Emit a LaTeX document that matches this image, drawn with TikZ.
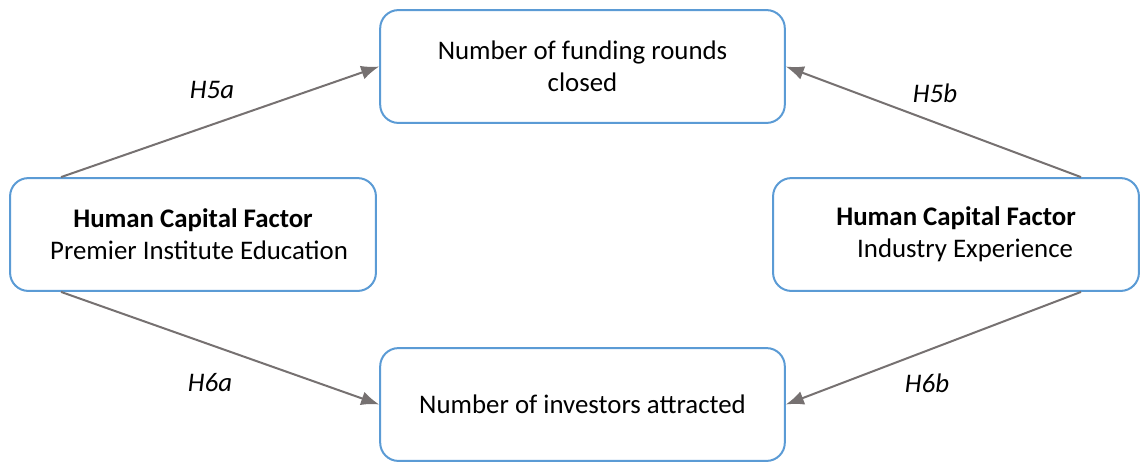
\documentclass[tikz,border=0pt]{standalone}
\usepackage{fontspec}
\setmainfont{Carlito}
\usetikzlibrary{positioning}
\usetikzlibrary{arrows.meta}
\definecolor{boxblue}{RGB}{91,155,213}
\definecolor{arrowgray}{RGB}{118,113,113}
\newcommand\pxunit{0.017544cm}
\tikzset{
    factorbox/.style = {draw=boxblue, line width=1pt, rounded corners=0.32cm,
        minimum width=6.42cm, minimum height=1.98cm, align=center, font=\fontsize{13.4}{16}\selectfont},
    outcomebox/.style = {factorbox, minimum width=7.1cm},
    hyparrow/.style = {draw=arrowgray, line width=1pt, -{Latex[length=9pt,width=7pt]}},
    hyplabel/.style = {font=\fontsize{13.4}{16}\selectfont\itshape},
}

\begin{document}
\begin{tikzpicture}[x=\pxunit, y=-\pxunit]
         \useasboundingbox (0,0) rectangle (1140,463);
         % --- Outcomes
         \node[outcomebox] (rounds) at (582.5,66.5) {Number of funding rounds\\closed};
         \node[outcomebox] (investors) at (582.5,404.5) {Number of investors attracted};
         % --- Human capital factors
         \node[factorbox] (premier) at (193,234.5) {\textbf{Human Capital Factor}\\\ \ Premier Institute Education};
         \node[factorbox] (industry) at (956,234.5) {\textbf{Human Capital Factor}\\\ \ \ Industry Experience};
         % --- Hypotheses
         \draw[hyparrow] ([xshift=52*\pxunit]premier.north west) -- (rounds.west);
         \draw[hyparrow] ([xshift=52*\pxunit]premier.south west) -- (investors.west);
         \draw[hyparrow] ([xshift=-59*\pxunit]industry.north east) -- (rounds.east);
         \draw[hyparrow] ([xshift=-59*\pxunit]industry.south east) -- (investors.east);
         \node[hyplabel] (h5a) at (212,90) {H5a};
         \node[hyplabel] (h6a) at (210,383) {H6a};
         \node[hyplabel] (h5b) at (935,93) {H5b};
         \node[hyplabel] (h6b) at (927,383) {H6b};
       \end{tikzpicture}
\end{document}
